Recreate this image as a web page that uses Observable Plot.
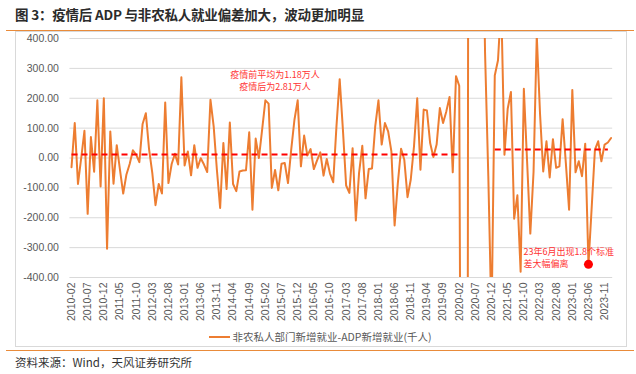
<!DOCTYPE html>
<html><head><meta charset="utf-8">
<script src="https://cdn.jsdelivr.net/npm/d3@7"></script>
<script src="https://cdn.jsdelivr.net/npm/@observablehq/plot@0.6"></script>
<style>
body{margin:0;background:#fff;font-family:"Noto Sans CJK SC","Liberation Sans",sans-serif;}
#wrap{position:relative;width:636px;height:374px;overflow:hidden;background:#fff;}
#title{position:absolute;left:15px;top:4px;font-size:13.5px;font-weight:bold;color:#2b2b2b;white-space:nowrap;letter-spacing:-0.2px;}
.rule{position:absolute;left:6px;width:628px;height:0;border-top:1.5px solid #E98B3A;}
#frame{position:absolute;left:15px;top:31px;width:612px;height:316px;border:1px solid #D9D9D9;box-sizing:border-box;}
#chart{position:absolute;left:0;top:0;}
#legend{position:absolute;top:329px;left:0;width:640px;display:flex;justify-content:center;align-items:center;font-size:10.5px;color:#595959;white-space:nowrap;}
#legend .sw{display:inline-block;width:21px;height:0;border-top:2px solid #ED7D31;margin-right:3px;}
#source{position:absolute;left:15px;top:354px;font-size:11.5px;color:#333;white-space:nowrap;}
</style></head>
<body>
<div id="wrap">
  <div id="title">图 3：疫情后 ADP 与非农私人就业偏差加大，波动更加明显</div>
  <div class="rule" style="top:30px"></div>
  <div id="frame"></div>
  <div id="chart"></div>
  <div id="legend"><span class="sw"></span><span id="legendText"></span></div>
  <div class="rule" style="top:350px"></div>
  <div id="source">资料来源：Wind，天风证券研究所</div>
</div>
<script>
// Series: 非农私人部门新增就业 - ADP新增就业 (千人), monthly from 2010-02
const seriesName = "非农私人部门新增就业-ADP新增就业(千人)";
const startMonth = "2010-02";
const diff = [
  -31, 117, -87, 0, 91, -187, 70, -46, 193, -95, 200, -304, 89, -86, 43, -40, -119, -55, -20, 26,
  11, -14, 114, 150, 30, -50, -158, -87, -119, 186, -84, -20, 14, -22, 270, -25, 22, -58, 43, -33,
  -1, -22, -47, 195, 106, -40, -167, 50, -104, 119, -87, -111, -45, -42, -41, 86, -173, 65, 0, 95,
  193, 182, -100, -40, -108, -19, -17, -84, 28, 128, 193, -28, 75, 8, 30, -37, -8, 19, -59, -3,
  -52, -81, 106, 264, 95, -92, -117, 33, -209, -50, 41, -135, -37, -35, 106, 193, 45, 117, 89, 22,
  -226, -84, 31, -6, -131, -72, 39, 200, -39, 162, 159, 50, 3, 45, 167, 117, 156, 204, -48, 274,
  242, -2500, -7000, 3000, 1500, 1200, 900, 1000, 350, -60, -550, 276, 327, 520, 11, 165, 221, -203, -125, -381,
  232, -10, -253, -47, 410, 150, -45, 56, -65, 63, -33, -28, 130, -17, -173, 228, -48, -11, -61, 48,
  -356, -165, 28, 56, -11, 45, 52, 67
];
// Averages (千人): pre-COVID 11.8, post-COVID 28.1
const meanSegments = [
  {from: "2010-02", to: "2020-02", value: 11.8},
  {from: "2021-01", to: "2023-12", value: 28.1}
];
const yTicks = [-400, -300, -200, -100, 0, 100, 200, 300, 400];
const highlightMonth = "2023-06";
const noteMean = "疫情前平均为1.18万人\n疫情后为2.81万人";
const noteHighlight = "23年6月出现1.8个标准\n差大幅偏离";

const fmtMonth = d3.utcFormat("%Y-%m");
const start = d3.utcParse("%Y-%m")(startMonth);
const months = diff.map((_, k) => fmtMonth(d3.utcMonth.offset(start, k)));
const tickLabels = months.filter((_, k) => k % 5 === 0);
const data = diff.map((v, k) => ({month: months[k], value: v}));
const highlight = data.filter(d => d.month === highlightMonth);

document.getElementById("legendText").textContent = seriesName;

const red = "#FF0000";
const chart = Plot.plot({
  width: 636, height: 374,
  marginTop: 38, marginBottom: 97, marginLeft: 69.4, marginRight: 23.8,
  style: {fontFamily: "'Liberation Sans', Arial, sans-serif", fontSize: "10.5px", color: "#595959", background: "transparent", overflow: "visible"},
  x: {type: "point", domain: months, padding: 0.5},
  y: {domain: [-400, 400]},
  marks: [
    Plot.gridY(yTicks, {stroke: "#D9D9D9", strokeOpacity: 1, strokeWidth: 1}),
    Plot.axisY(yTicks, {tickSize: 0, tickPadding: 11, tickFormat: d => d.toFixed(2), fill: "#595959", fontSize: 10.5, label: null}),
    Plot.axisX(tickLabels, {tickSize: 0, tickPadding: 5, tickRotate: -90, fill: "#595959", fontSize: 10.5, label: null}),
    Plot.line(data, {x: "month", y: "value", stroke: "#ED7D31", strokeWidth: 2, clip: true}),
    Plot.link(meanSegments, {x1: "from", x2: "to", y1: "value", y2: "value", stroke: red, strokeWidth: 2, strokeDasharray: "6,4"}),
    Plot.dot(highlight, {x: "month", y: "value", r: 4.5, fill: red, stroke: "none"}),
    Plot.text(highlight, {x: "month", y: "value", text: () => noteHighlight, textAnchor: "start", lineAnchor: "middle", dx: -65, dy: -7, fill: "#FF3333", fontSize: 9, lineHeight: 1.35, fontFamily: "'Noto Sans CJK SC', sans-serif"}),
    Plot.text([noteMean], {x: () => months[63], y: () => 260, text: d => d, textAnchor: "middle", lineAnchor: "middle", fill: "#FF3333", fontSize: 9, lineHeight: 1.35, fontFamily: "'Noto Sans CJK SC', sans-serif"})
  ]
});
document.getElementById("chart").appendChild(chart);
</script>
</body></html>
